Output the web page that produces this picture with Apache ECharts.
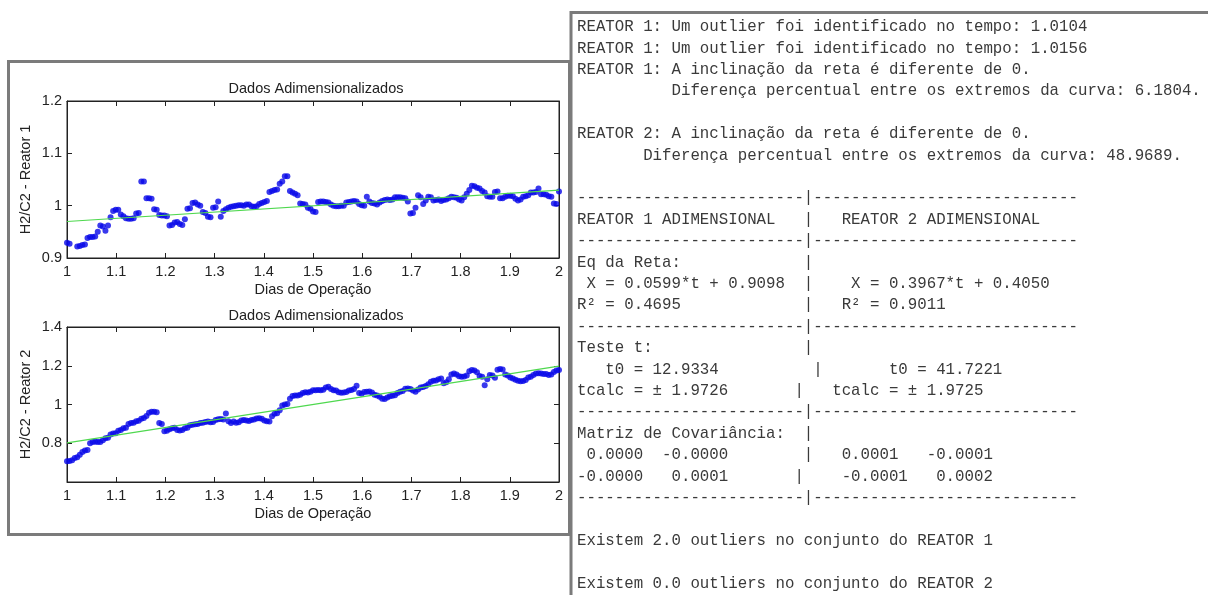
<!DOCTYPE html>
<html>
<head>
<meta charset="utf-8">
<script src="https://cdn.jsdelivr.net/npm/echarts@6/dist/echarts.min.js"></script>
<style>
  html, body { margin: 0; padding: 0; background: #fff; }
  #chart { width: 1208px; height: 595px; }
</style>
</head>
<body>
<div id="chart"></div>
<script>
// Sampling of the operation days (1/192 day between samples)
const DAY_START = 1;
const DAY_STEP = 1 / 192;

// H2/C2 ratio, reactor 1 (null = outlier removed)
const reator1 = [
  0.929, 0.927, null, null, 0.922, 0.923, 0.925, 0.926, 0.938, 0.940,
  0.940, 0.941, 0.950, 0.962, 0.960, 0.952, 0.962, 0.978, 0.990, 0.992,
  0.992, 0.983, 0.980, 0.976, 0.975, 0.975, 0.976, 0.985, 0.986, 1.046,
  1.046, 1.014, 1.014, 1.013, 0.993, 0.992, 0.982, 0.981, 0.981, 0.980,
  0.962, 0.963, 0.968, 0.969, 0.965, 0.963, 0.974, 0.994, 0.995, 1.005,
  1.006, 1.002, 1.000, 0.988, 0.986, 0.979, 0.978, 0.996, 0.997, 1.008,
  0.979, 0.990, 0.993, 0.996, 0.998, 0.999, 1.000, 1.001, 1.001, 1.000,
  1.002, 1.002, 0.999, 0.998, 0.999, 1.003, 1.005, 1.007, 1.009, 1.026,
  1.028, 1.030, 1.031, 1.042, 1.046, 1.056, 1.056, 1.028, 1.025, 1.023,
  1.020, 1.004, 1.003, 1.002, 0.996, 0.994, 0.989, 0.988, 1.007, 1.008,
  1.008, 1.007, 1.006, 1.002, 1.000, 0.999, 0.999, 1.000, 1.000, 1.006,
  1.007, 1.008, 1.009, 1.008, 1.003, 1.001, 1.000, 1.017, 1.008, 1.005,
  1.004, 1.002, 1.006, 1.009, 1.011, 1.012, 1.011, 1.012, 1.016, 1.016,
  1.016, 1.015, 1.014, 1.008, 0.985, 0.986, 0.996, 1.020, 1.016, 1.003,
  1.010, 1.017, 1.016, 1.010, 1.011, 1.012, 1.009, 1.011, 1.012, 1.014,
  1.017, 1.016, 1.015, 1.012, 1.010, 1.016, 1.023, 1.030, 1.038, 1.037,
  1.034, 1.033, 1.028, 1.025, 1.018, 1.017, 1.017, 1.026, 1.027, 1.014,
  1.014, 1.017, 1.019, 1.019, 1.018, 1.013, 1.010, 1.012, 1.017, 1.018,
  1.020, 1.025, 1.025, 1.026, 1.033, 1.022, 1.022, 1.021, 1.018, 1.017,
  1.004, 1.003, 1.027
];

// H2/C2 ratio, reactor 2
const reator2 = [
  0.707, 0.708, 0.712, 0.724, 0.728, 0.741, 0.755, 0.762, 0.765, 0.800,
  0.806, 0.808, 0.807, 0.807, 0.815, 0.826, 0.829, 0.845, 0.850, 0.852,
  0.864, 0.868, 0.877, 0.880, 0.900, 0.905, 0.906, 0.913, 0.916, 0.926,
  0.930, 0.941, 0.958, 0.962, 0.962, 0.960, 0.905, 0.900, 0.862, 0.864,
  0.872, 0.878, 0.880, 0.868, 0.866, 0.868, 0.878, 0.880, 0.893, 0.896,
  0.898, 0.900, 0.905, 0.906, 0.910, 0.912, 0.908, 0.910, 0.920, 0.924,
  0.925, 0.923, 0.953, 0.914, 0.905, 0.912, 0.906, 0.908, 0.917, 0.920,
  0.918, 0.915, 0.920, 0.922, 0.928, 0.929, 0.927, 0.918, 0.913, 0.912,
  0.940, 0.952, 0.955, 0.970, 0.995, 1.000, 1.002, 1.030, 1.044, 1.046,
  1.047, 1.050, 1.060, 1.063, 1.062, 1.066, 1.073, 1.074, 1.075, 1.074,
  1.076, 1.088, 1.091, 1.080, 1.074, 1.072, 1.063, 1.061, 1.062, 1.064,
  1.072, 1.075, 1.080, 1.097, 1.060, 1.056, 1.064, 1.066, 1.067, 1.062,
  1.050, 1.046, 1.040, 1.030, 1.028, 1.036, 1.043, 1.045, 1.048, 1.060,
  1.066, 1.070, 1.081, 1.083, 1.080, 1.072, 1.066, 1.078, 1.088, 1.090,
  1.095, 1.105, 1.118, 1.122, 1.124, 1.130, 1.134, 1.110, 1.115, 1.130,
  1.155, 1.160, 1.155, 1.146, 1.143, 1.144, 1.150, 1.172, 1.178, 1.176,
  1.166, 1.147, 1.143, 1.100, 1.130, 1.152, 1.150, 1.138, 1.180, 1.183,
  1.181, 1.155, 1.150, 1.140, 1.134, 1.128, 1.122, 1.120, 1.121, 1.126,
  1.140, 1.143, 1.152, 1.160, 1.161, 1.160, 1.158, 1.157, 1.152, 1.155,
  1.168, 1.175, 1.178
];

// Fitted straight lines X = a*t + b
const reta1 = { a: 0.0599, b: 0.9098 };
const reta2 = { a: 0.3967, b: 0.4050 };

// Axis ranges and ticks
const xTicks = { min: 1, max: 2, interval: 0.1 };
const y1Ticks = { min: 0.9, max: 1.2, interval: 0.1 };
const y2Ticks = { min: 0.6, max: 1.4, interval: 0.2 };

// Texts
const plotTitle = 'Dados Adimensionalizados';
const xName = 'Dias de Operação';
const y1Name = 'H2/C2 - Reator 1';
const y2Name = 'H2/C2 - Reator 2';

// Console output printed next to the figure
const consoleLines = [
  'REATOR 1: Um outlier foi identificado no tempo: 1.0104',
  'REATOR 1: Um outlier foi identificado no tempo: 1.0156',
  'REATOR 1: A inclinação da reta é diferente de 0.',
  '          Diferença percentual entre os extremos da curva: 6.1804.',
  '',
  'REATOR 2: A inclinação da reta é diferente de 0.',
  '       Diferença percentual entre os extremos da curva: 48.9689.',
  '',
  '------------------------|----------------------------',
  'REATOR 1 ADIMENSIONAL   |   REATOR 2 ADIMENSIONAL',
  '------------------------|----------------------------',
  'Eq da Reta:             |',
  ' X = 0.0599*t + 0.9098  |    X = 0.3967*t + 0.4050',
  'R² = 0.4695             |   R² = 0.9011',
  '------------------------|----------------------------',
  'Teste t:                |',
  '   t0 = 12.9334          |       t0 = 41.7221',
  'tcalc = ± 1.9726       |   tcalc = ± 1.9725',
  '------------------------|----------------------------',
  'Matriz de Covariância:  |',
  ' 0.0000  -0.0000        |   0.0001   -0.0001',
  '-0.0000   0.0001       |    -0.0001   0.0002',
  '------------------------|----------------------------',
  '',
  'Existem 2.0 outliers no conjunto do REATOR 1',
  '',
  'Existem 0.0 outliers no conjunto do REATOR 2'
];

function toPoints(values) {
  const pts = [];
  values.forEach((v, i) => {
    if (v !== null) pts.push([DAY_START + i * DAY_STEP, v]);
  });
  return pts;
}
function linePoints(r) {
  return [[xTicks.min, r.a * xTicks.min + r.b], [xTicks.max, r.a * xTicks.max + r.b]];
}

const TXT = '#222';
const FONT = '"Liberation Sans", Arial, sans-serif';
const FS = 14.5;
const fmt = v => String(+v.toFixed(2));

function xAxisPair(gridIndex) {
  return [
    {
      type: 'value', gridIndex, position: 'bottom',
      min: xTicks.min, max: xTicks.max, interval: xTicks.interval,
      name: xName, nameLocation: 'middle', nameGap: 24,
      nameTextStyle: { color: TXT, fontSize: FS, fontFamily: FONT },
      axisLine: { show: true, lineStyle: { color: '#222', width: 1 } },
      axisTick: { show: true, inside: true, length: 5, lineStyle: { color: '#222' } },
      axisLabel: { color: TXT, fontSize: FS, fontFamily: FONT, margin: 6, formatter: fmt },
      splitLine: { show: false }
    },
    {
      type: 'value', gridIndex, position: 'top',
      min: xTicks.min, max: xTicks.max, interval: xTicks.interval,
      axisLine: { show: true, lineStyle: { color: '#222', width: 1 } },
      axisTick: { show: true, inside: true, length: 5, lineStyle: { color: '#222' } },
      axisLabel: { show: false },
      splitLine: { show: false }
    }
  ];
}
function yAxisPair(gridIndex, ticks, name) {
  return [
    {
      type: 'value', gridIndex, position: 'left',
      min: ticks.min, max: ticks.max, interval: ticks.interval,
      name, nameLocation: 'middle', nameGap: 34,
      nameTextStyle: { color: TXT, fontSize: FS, fontFamily: FONT },
      axisLine: { show: true, lineStyle: { color: '#222', width: 1 } },
      axisTick: { show: true, inside: true, length: 5, lineStyle: { color: '#222' } },
      axisLabel: {
        color: TXT, fontSize: FS, fontFamily: FONT, margin: 5, formatter: fmt,
        showMinLabel: gridIndex === 0
      },
      splitLine: { show: false }
    },
    {
      type: 'value', gridIndex, position: 'right',
      min: ticks.min, max: ticks.max, interval: ticks.interval,
      axisLine: { show: true, lineStyle: { color: '#222', width: 1 } },
      axisTick: { show: true, inside: true, length: 5, lineStyle: { color: '#222' } },
      axisLabel: { show: false },
      splitLine: { show: false }
    }
  ];
}

const LINE_H = 21.4;
const consoleGraphics = consoleLines.map((s, i) => ({
  type: 'text',
  x: 577,
  y: 27 + i * LINE_H,
  style: {
    text: s,
    font: '15.75px "Courier New", "Liberation Mono", monospace',
    fill: '#3a3a3a',
    verticalAlign: 'middle'
  }
}));

const chart = echarts.init(document.getElementById('chart'), null, { renderer: 'canvas' });
chart.setOption({
  animation: false,
  backgroundColor: '#fff',
  title: [
    { text: plotTitle, left: 311, top: 76, textAlign: 'center',
      textStyle: { color: TXT, fontSize: FS, fontWeight: 'normal', fontFamily: FONT } },
    { text: plotTitle, left: 311, top: 303, textAlign: 'center',
      textStyle: { color: TXT, fontSize: FS, fontWeight: 'normal', fontFamily: FONT } }
  ],
  grid: [
    { left: 67, top: 101, width: 492, height: 157, show: true, borderColor: '#222', borderWidth: 1, backgroundColor: '#fff' },
    { left: 67, top: 327, width: 492, height: 155, show: true, borderColor: '#222', borderWidth: 1, backgroundColor: '#fff' }
  ],
  xAxis: [...xAxisPair(0), ...xAxisPair(1)],
  yAxis: [...yAxisPair(0, y1Ticks, y1Name), ...yAxisPair(1, y2Ticks, y2Name)],
  series: [
    { type: 'scatter', xAxisIndex: 0, yAxisIndex: 0, data: toPoints(reator1),
      symbol: 'circle', symbolSize: 6, itemStyle: { color: '#0808e8' } },
    { type: 'line', xAxisIndex: 0, yAxisIndex: 0, data: linePoints(reta1),
      showSymbol: false, lineStyle: { color: '#4fd84f', width: 1.2 } },
    { type: 'scatter', xAxisIndex: 2, yAxisIndex: 2, data: toPoints(reator2),
      symbol: 'circle', symbolSize: 6, itemStyle: { color: '#0808e8' } },
    { type: 'line', xAxisIndex: 2, yAxisIndex: 2, data: linePoints(reta2),
      showSymbol: false, lineStyle: { color: '#4fd84f', width: 1.2 } }
  ],
  graphic: [
    // frame around the figure
    { type: 'rect', shape: { x: 8.5, y: 61.5, width: 561, height: 473 },
      style: { fill: null, stroke: '#7b7b7b', lineWidth: 3 }, z: 10 },
    // console window edges
    { type: 'line', shape: { x1: 570, y1: 12.5, x2: 1208, y2: 12.5 },
      style: { stroke: '#7b7b7b', lineWidth: 3 }, z: 10 },
    { type: 'line', shape: { x1: 571, y1: 11, x2: 571, y2: 595 },
      style: { stroke: '#7b7b7b', lineWidth: 3 }, z: 10 },
    ...consoleGraphics
  ]
});
</script>
</body>
</html>
